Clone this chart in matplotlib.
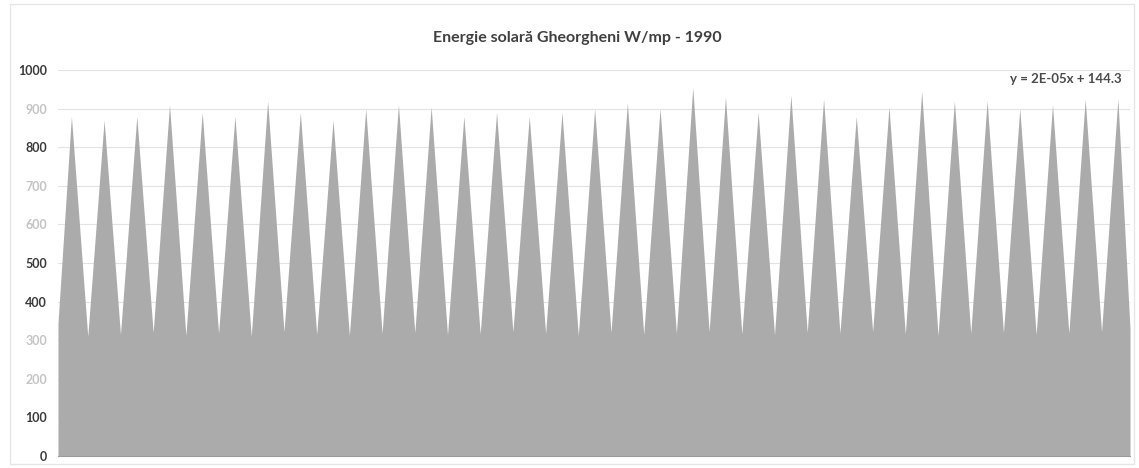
import matplotlib.pyplot as plt
from matplotlib.patches import Rectangle

# peak values of each cycle (W/mp)
peaks = [880, 870, 880, 910, 890, 880, 920, 890, 870, 900, 910,
         905, 880, 890, 880, 890, 900, 915, 900, 955, 930, 890,
         935, 925, 880, 905, 945, 920, 920, 900, 910, 925, 925]
# troughs between peaks (first = left edge, last = right edge)
troughs = [345, 310, 315, 320, 312, 318, 310, 322, 315, 312, 318, 320,
           314, 316, 322, 318, 312, 320, 315, 318, 322, 316, 314, 320,
           318, 322, 316, 312, 318, 320, 315, 318, 322, 330]
yticks = [0, 100, 200, 300, 400, 500, 600, 700, 800, 900, 1000]
faint_ticks = [200, 300, 600, 700, 900]

plt.rcParams['font.family'] = ['Lato', 'DejaVu Sans']

fig = plt.figure(figsize=(11.39, 4.68), dpi=100)
ax = fig.add_axes([58 / 1139, 12 / 468, 1072 / 1139, 386 / 468])

# build the outline: trough, peak, trough, ...
xs, ys = [], []
for k, p in enumerate(peaks):
    xs.append(k - 0.5 if k > 0 else -0.41)
    ys.append(troughs[k])
    xs.append(k)
    ys.append(p)
xs.append(32.37)
ys.append(troughs[-1])

ax.fill_between(xs, 0, ys, color='#ababab', lw=0, zorder=2)

ax.set_xlim(-0.41, 32.37)
ax.set_ylim(0, 1000)
ax.set_yticks(yticks)
ax.set_xticks([])
ax.grid(axis='y', color='#e3e3e3', lw=0.8, zorder=0)
ax.tick_params(axis='y', length=0, pad=8, labelsize=9)
for lab, v in zip(ax.get_yticklabels(), yticks):
    lab.set_fontweight('bold')
    lab.set_color('#c4c4c4' if v in faint_ticks else '#3a3a3a')
for s in ['top', 'right', 'left']:
    ax.spines[s].set_visible(False)
ax.spines['bottom'].set_color('#9a9a9a')

fig.text(0.507, 1 - 38 / 468, 'Energie solară Gheorgheni W/mp - 1990',
         ha='center', va='center', fontsize=11.5, color='#404040',
         fontweight='bold')
fig.text(1122 / 1139, 1 - 79 / 468, 'y = 2E-05x + 144.3',
         ha='right', va='center', fontsize=9.5, color='#4a4a4a', fontweight='bold')

# chart area border
fig.patches.append(Rectangle((10 / 1139, 4 / 468), 1124 / 1139, 460 / 468,
                             transform=fig.transFigure, fill=False,
                             ec='#e6e6e6', lw=1))

fig.savefig('out.png', dpi=100)
